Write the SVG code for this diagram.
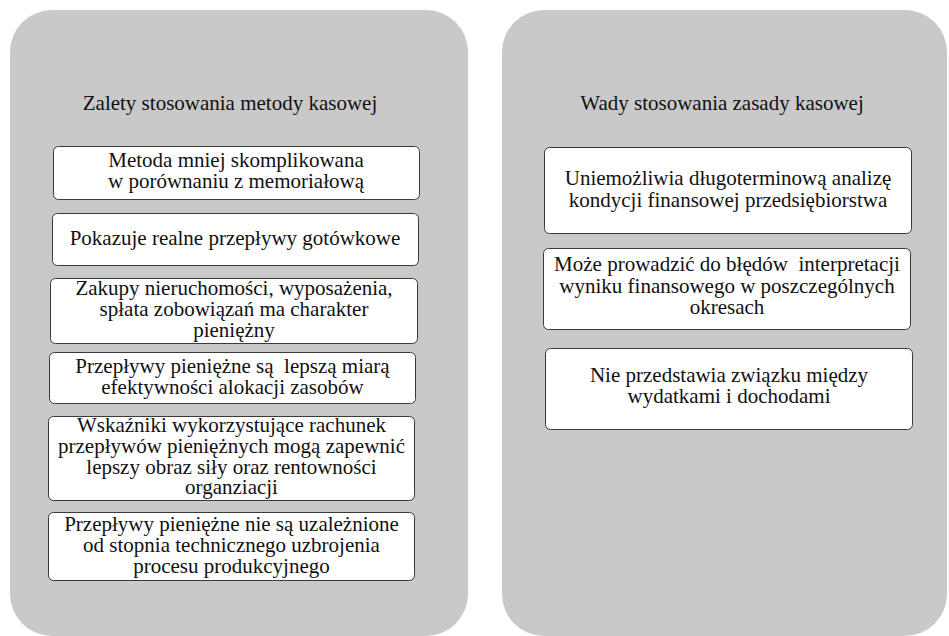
<svg xmlns="http://www.w3.org/2000/svg" width="949" height="636" viewBox="0 0 949 636">
  <style>
    .panel { fill: #c9c9c9; }
    .box { fill: #ffffff; stroke: #3a3a3a; stroke-width: 1; }
    text { font-family: "Liberation Serif", "Times New Roman", Tinos, "DejaVu Serif", serif; font-size: 21px; fill: #111111; text-anchor: middle; }
  </style>
  <rect width="949" height="636" fill="#ffffff"/>

  <!-- Left panel: advantages -->
  <g id="panel-zalety">
    <rect class="panel" x="10" y="10" width="458" height="626" rx="42" ry="42"/>
    <text x="230" y="110">Zalety stosowania metody kasowej</text>
  </g>
  <g id="z1">
    <rect class="box" x="53.5" y="146.5" width="366" height="53" rx="5"/>
    <text x="236" y="167">Metoda mniej skomplikowana</text>
    <text x="236" y="188">w porównaniu z memoriałową</text>
  </g>
  <g id="z2">
    <rect class="box" x="52.5" y="213.5" width="366" height="52" rx="5"/>
    <text x="235" y="245">Pokazuje realne przepływy gotówkowe</text>
  </g>
  <g id="z3">
    <rect class="box" x="50.5" y="278.5" width="367" height="65" rx="5"/>
    <text x="234" y="295">Zakupy nieruchomości, wyposażenia,</text>
    <text x="234" y="316">spłata zobowiązań ma charakter</text>
    <text x="234" y="337">pieniężny</text>
  </g>
  <g id="z4">
    <rect class="box" x="49.5" y="352.5" width="366" height="51" rx="5"/>
    <text x="232.5" y="373" xml:space="preserve">Przepływy pieniężne są  lepszą miarą</text>
    <text x="232.5" y="394">efektywności alokacji zasobów</text>
  </g>
  <g id="z5">
    <rect class="box" x="48.5" y="416.5" width="366" height="84" rx="5"/>
    <text x="231.5" y="432">Wskaźniki wykorzystujące rachunek</text>
    <text x="231.5" y="453">przepływów pieniężnych mogą zapewnić</text>
    <text x="231.5" y="474">lepszy obraz siły oraz rentowności</text>
    <text x="231.5" y="494">organziacji</text>
  </g>
  <g id="z6">
    <rect class="box" x="48.5" y="512.5" width="366" height="68" rx="5"/>
    <text x="231.5" y="531">Przepływy pieniężne nie są uzależnione</text>
    <text x="231.5" y="552">od stopnia technicznego uzbrojenia</text>
    <text x="231.5" y="573">procesu produkcyjnego</text>
  </g>

  <!-- Right panel: disadvantages -->
  <g id="panel-wady">
    <rect class="panel" x="502" y="10" width="445" height="626" rx="42" ry="42"/>
    <text x="722" y="110">Wady stosowania zasady kasowej</text>
  </g>
  <g id="w1">
    <rect class="box" x="544.5" y="147.5" width="367" height="86" rx="5"/>
    <text x="728" y="185">Uniemożliwia długoterminową analizę</text>
    <text x="728" y="207">kondycji finansowej przedsiębiorstwa</text>
  </g>
  <g id="w2">
    <rect class="box" x="543.5" y="248.5" width="367" height="81" rx="5"/>
    <text x="727" y="271" xml:space="preserve">Może prowadzić do błędów  interpretacji</text>
    <text x="727" y="293">wyniku finansowego w poszczególnych</text>
    <text x="727" y="314">okresach</text>
  </g>
  <g id="w3">
    <rect class="box" x="545.5" y="348.5" width="367" height="81" rx="5"/>
    <text x="729" y="382">Nie przedstawia związku między</text>
    <text x="729" y="403">wydatkami i dochodami</text>
  </g>

  <!-- no connectors in this figure -->
  <g id="connectors"/>
</svg>
